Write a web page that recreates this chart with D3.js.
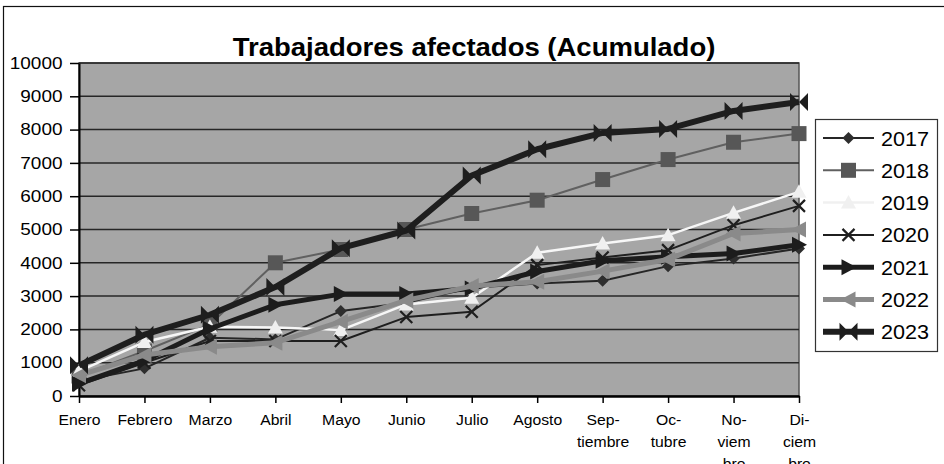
<!DOCTYPE html>
<html>
<head>
<meta charset="utf-8">
<script src="https://cdn.jsdelivr.net/npm/d3@7/dist/d3.min.js"></script>
<style>
  html, body { margin: 0; padding: 0; background: #fff; }
  svg { display: block; font-family: "Liberation Sans", Arial, sans-serif; }
</style>
</head>
<body>
<svg id="chart" width="944" height="464"></svg>
<script>
// Months on the horizontal axis
const months = ["Enero", "Febrero", "Marzo", "Abril", "Mayo", "Junio", "Julio",
  "Agosto", "Septiembre", "Octubre", "Noviembre", "Diciembre"];
// Hyphenated month labels, one entry per line
const monthLabels = [["Enero"], ["Febrero"], ["Marzo"], ["Abril"], ["Mayo"], ["Junio"],
  ["Julio"], ["Agosto"], ["Sep-", "tiembre"], ["Oc-", "tubre"], ["No-", "viem", "bre"],
  ["Di-", "ciem", "bre"]];
const yTicks = [0, 1000, 2000, 3000, 4000, 5000, 6000, 7000, 8000, 9000, 10000];
const years = ["2017", "2018", "2019", "2020", "2021", "2022", "2023"];

// Cumulative affected workers per year
const v2017 = [450, 830, 1750, 1700, 2550, 2800, 3250, 3380, 3460, 3900, 4130, 4430];
const v2018 = [600, 1350, 2150, 4000, 4400, 5000, 5480, 5880, 6500, 7100, 7620, 7880];
const v2019 = [750, 1620, 2080, 2060, 1980, 2750, 2950, 4300, 4580, 4830, 5500, 6130];
const v2020 = [320, 1000, 1650, 1650, 1650, 2370, 2530, 3930, 4160, 4380, 5130, 5710];
const v2021 = [370, 1060, 2020, 2740, 3060, 3060, 3230, 3740, 4060, 4180, 4280, 4540];
const v2022 = [620, 1230, 1480, 1600, 2230, 2870, 3300, 3430, 3750, 4100, 4880, 5000];
const v2023 = [920, 1840, 2440, 3270, 4440, 4970, 6620, 7410, 7900, 8020, 8560, 8830];
const seriesValues = [v2017, v2018, v2019, v2020, v2021, v2022, v2023];

const svg = d3.select("#chart");
const plot = { left: 79, right: 799, top: 63, bottom: 396 };

const x = d3.scalePoint().domain(months).range([plot.left, plot.right]).padding(0);
const y = d3.scaleLinear().domain([0, 10000]).range([plot.bottom, plot.top]);

// Outer chart frame
svg.append("rect")
  .attr("x", 3.5).attr("y", 6.5).attr("width", 960).attr("height", 480)
  .attr("fill", "#fff").attr("stroke", "#111").attr("stroke-width", 1.2);

// Plot area
svg.append("rect")
  .attr("x", plot.left).attr("y", plot.top)
  .attr("width", plot.right - plot.left).attr("height", plot.bottom - plot.top)
  .attr("fill", "#a6a6a6").attr("stroke", "#555").attr("stroke-width", 1.5);

// Horizontal gridlines
svg.append("g").selectAll("line").data(yTicks.filter(d => d > 0)).join("line")
  .attr("x1", plot.left).attr("x2", plot.right)
  .attr("y1", d => y(d)).attr("y2", d => y(d))
  .attr("stroke", "#262626").attr("stroke-width", 1.5);

// Title
svg.append("text")
  .attr("transform", "translate(474,56) scale(1.1,1)")
  .attr("text-anchor", "middle")
  .attr("font-size", 25).attr("font-weight", "bold").attr("fill", "#000")
  .text("Trabajadores afectados (Acumulado)");

// Y axis
const yAxis = svg.append("g")
  .attr("transform", `translate(${plot.left},0)`)
  .call(d3.axisLeft(y).tickValues(yTicks).tickFormat(d3.format("d"))
    .tickSize(9).tickSizeOuter(0).tickPadding(17));
yAxis.select(".domain").attr("stroke", "#000").attr("stroke-width", 2);
yAxis.selectAll(".tick line").attr("stroke", "#000").attr("stroke-width", 1.5);
yAxis.selectAll(".tick text")
  .attr("font-size", 16.5).attr("fill", "#000").attr("font-family", null)
  .attr("transform", "scale(1.15,1)")
  .attr("x", -16.5 / 1.15);

// X axis
const xAxis = svg.append("g")
  .attr("transform", `translate(0,${plot.bottom})`)
  .call(d3.axisBottom(x).tickSize(7).tickSizeOuter(0).tickFormat(""));
xAxis.select(".domain").attr("stroke", "#000").attr("stroke-width", 2.5);
xAxis.selectAll(".tick line").attr("stroke", "#000").attr("stroke-width", 1.5);
xAxis.selectAll(".tick").each(function (d, i) {
  const t = d3.select(this).select("text")
    .attr("font-size", 15).attr("fill", "#000").attr("font-family", null)
    .attr("y", 0).attr("dy", null)
    .attr("transform", "scale(1.05,1)");
  t.selectAll("tspan").data(monthLabels[i]).join("tspan")
    .attr("x", 0).attr("y", (s, k) => 29 + k * 22)
    .text(s => s);
});

// Marker shapes
const markerPath = {
  diamond: "M0,-6L6,0L0,6L-6,0Z",
  square: "M-7.5,-7.5H7.5V7.5H-7.5Z",
  triUp: "M0,-7.5L7.5,6L-7.5,6Z",
  cross: "M-6,-6L6,6M6,-6L-6,6",
  triRight: "M-7,-8L8,0L-7,8Z",
  triLeft: "M7,-8L-8,0L7,8Z",
  bowtie: "M-9,-9L0,0L-9,9ZM9,-9L0,0L9,9Z"
};

const styles = [
  { line: "#262626", width: 2, marker: "diamond", fill: "#2e2e2e", stroke: "none" },
  { line: "#606060", width: 2, marker: "square", fill: "#575757", stroke: "none" },
  { line: "#f7f7f7", width: 2.5, marker: "triUp", fill: "#f0f0f0", stroke: "none" },
  { line: "#1f1f1f", width: 2, marker: "cross", fill: "none", stroke: "#1f1f1f" },
  { line: "#1c1c1c", width: 5, marker: "triRight", fill: "#1c1c1c", stroke: "none" },
  { line: "#8a8a8a", width: 5, marker: "triLeft", fill: "#8a8a8a", stroke: "none" },
  { line: "#1e1e1e", width: 6, marker: "bowtie", fill: "#1e1e1e", stroke: "none" }
];

const lineGen = d3.line().x((d, i) => x(months[i])).y(d => y(d));

seriesValues.forEach((vals, s) => {
  const st = styles[s];
  const g = svg.append("g");
  g.append("path").datum(vals)
    .attr("d", lineGen)
    .attr("fill", "none").attr("stroke", st.line).attr("stroke-width", st.width)
    .attr("stroke-linejoin", "round");
  g.selectAll("path.mk").data(vals).join("path").attr("class", "mk")
    .attr("transform", (d, i) => `translate(${x(months[i])},${y(d)})`)
    .attr("d", markerPath[st.marker])
    .attr("fill", st.fill).attr("stroke", st.stroke).attr("stroke-width", 2.2);
});

// Legend
const legend = svg.append("g");
legend.append("rect")
  .attr("x", 815.5).attr("y", 119.5).attr("width", 122).attr("height", 232)
  .attr("fill", "#fff").attr("stroke", "#333").attr("stroke-width", 1.2);
years.forEach((yr, s) => {
  const st = styles[s];
  const cy = 138 + s * 32.3;
  const row = legend.append("g");
  row.append("line").attr("x1", 823).attr("x2", 874).attr("y1", cy).attr("y2", cy)
    .attr("stroke", st.line === "#f7f7f7" ? "#f0f0f0" : st.line).attr("stroke-width", st.width);
  row.append("path")
    .attr("transform", `translate(848.5,${cy})`)
    .attr("d", markerPath[st.marker])
    .attr("fill", st.fill).attr("stroke", st.stroke).attr("stroke-width", 2.2);
  row.append("text")
    .attr("transform", `translate(881,${cy + 7.5}) scale(1.08,1)`)
    .attr("font-size", 20).attr("fill", "#000")
    .text(yr);
});
</script>
</body>
</html>
